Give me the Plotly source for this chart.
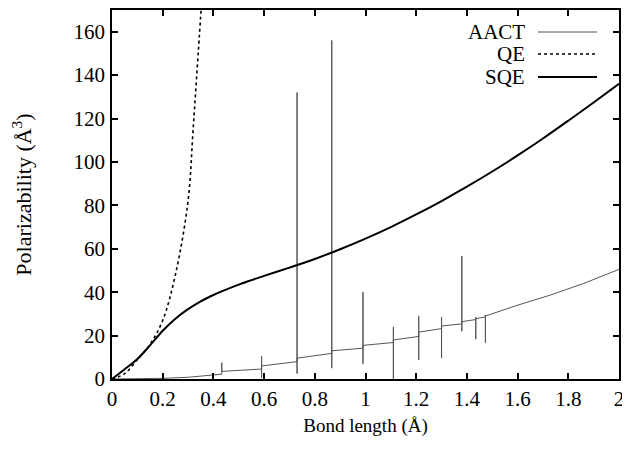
import plotly.graph_objects as go

# ---- data ----
sqe_x = [0, 0.05, 0.1, 0.15, 0.2, 0.25, 0.3, 0.35, 0.4, 0.45, 0.5, 0.6, 0.7, 0.8, 0.9,
         1.0, 1.1, 1.2, 1.3, 1.4, 1.5, 1.6, 1.7, 1.8, 1.9, 2.0]
sqe_y = [0, 4.5, 9.2, 15.5, 22.2, 27.8, 32.2, 35.8, 38.7, 41.2, 43.5, 47.5, 51.3, 55.3, 59.8,
         64.7, 70, 75.8, 82, 88.6, 95.6, 103, 110.8, 119, 127.4, 136]

qe_x = [0, 0.05, 0.1, 0.15, 0.2, 0.25, 0.3, 0.32, 0.34, 0.36]
qe_y = [0, 2.5, 9, 16, 27, 48, 82, 115, 150, 185]

aact_x = [0, 0.2, 0.3, 0.433, 0.433, 0.433,
          0.59, 0.59, 0.59, 0.59,
          0.73, 0.73, 0.73, 0.73,
          0.867, 0.867, 0.867, 0.867,
          0.99, 0.99, 0.99, 0.99,
          1.11, 1.11, 1.11, 1.11,
          1.21, 1.21, 1.21, 1.21,
          1.30, 1.30, 1.30, 1.30,
          1.38, 1.38, 1.38, 1.38,
          1.435, 1.435, 1.435, 1.435,
          1.473, 1.473, 1.473, 1.473,
          1.6, 1.73, 1.86, 2.0]
aact_y = [0, 0.3, 0.8, 2.2, 7.5, 3.5,
          4.6, 10.5, 0.5, 6.0,
          8.0, 132, 2.5, 9.6,
          11.8, 156, 5.0, 13.0,
          14.2, 40, 7.0, 15.5,
          16.8, 24, 0, 18.0,
          19.6, 29, 8.8, 21.6,
          23.2, 28.5, 9.6, 24.4,
          25.4, 56.7, 22, 26.4,
          27.4, 28.5, 18.4, 27.8,
          28.6, 29.5, 16.7, 29.0,
          34, 38.7, 44, 50.5]

x_ticks = [0, 0.2, 0.4, 0.6, 0.8, 1, 1.2, 1.4, 1.6, 1.8, 2]
x_ticklabels = ["0", "0.2", "0.4", "0.6", "0.8", "1", "1.2", "1.4", "1.6", "1.8", "2"]
y_ticks = [0, 20, 40, 60, 80, 100, 120, 140, 160]

names = ["AACT", "QE", "SQE"]

FONT = "Liberation Serif, Times New Roman, serif"

# page has an 8px body margin -> figure is 8px smaller and margins shifted
W, H = 622, 442
ML, MR, MT, MB = 104, 11, 2, 71
PW = W - ML - MR
PH = H - MT - MB

fig = go.Figure()
fig.add_trace(go.Scatter(x=aact_x, y=aact_y, mode="lines", name=names[0],
                         line=dict(color="#555555", width=1)))
fig.add_trace(go.Scatter(x=qe_x, y=qe_y, mode="lines", name=names[1],
                         line=dict(color="black", width=1.6, dash="dot", shape="spline")))
fig.add_trace(go.Scatter(x=sqe_x, y=sqe_y, mode="lines", name=names[2],
                         line=dict(color="black", width=2, shape="spline", smoothing=1)))

# custom legend: text on the left (right-aligned), line sample on the right
leg_styles = [dict(color="#555555", width=1), dict(color="black", width=1.6, dash="dot"),
              dict(color="black", width=2)]
leg_y = [32, 54, 77]  # screen pixel rows
for name, st, py in zip(names, leg_styles, leg_y):
    yp = (379 - py) / PH
    fig.add_annotation(x=(527 - 112) / PW, y=yp, xref="paper", yref="paper",
                       text=name, showarrow=False, xanchor="right", yanchor="middle",
                       font=dict(family=FONT, size=21, color="black"))
    fig.add_shape(type="line", xref="paper", yref="paper",
                  x0=(538 - 112) / PW, x1=(597 - 112) / PW, y0=yp, y1=yp, line=st)

axis_common = dict(showline=True, linecolor="black", linewidth=1.5, mirror="ticks",
                   ticks="inside", ticklen=6, tickwidth=1.5, tickcolor="black",
                   showgrid=False, zeroline=False, automargin=False,
                   tickfont=dict(family=FONT, size=21, color="black"))

fig.update_layout(
    width=W, height=H,
    margin=dict(l=ML, r=MR, t=MT, b=MB),
    paper_bgcolor="white", plot_bgcolor="white",
    showlegend=False,
    font=dict(family=FONT, size=19, color="black"),
    xaxis=dict(range=[0, 2], tickvals=x_ticks, ticktext=x_ticklabels,
               title=dict(text="Bond length (Å)", font=dict(family=FONT, size=19), standoff=9),
               **axis_common),
    yaxis=dict(range=[0, 170], tickvals=y_ticks, ticklabelstandoff=1,
               title=dict(text="Polarizability (Å<sup>3</sup>)", font=dict(family=FONT, size=22), standoff=38),
               **axis_common),
)

fig.write_html("out.html")
